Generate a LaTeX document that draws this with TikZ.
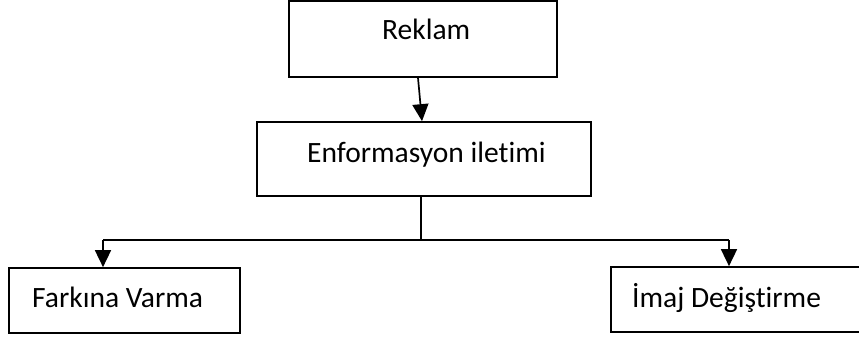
\documentclass[tikz,border=0pt]{standalone}
\usepackage{fontspec}
\setmainfont{Carlito}[Ligatures=NoCommon]
\usetikzlibrary{arrows.meta}
\tikzset{
  box/.style={draw=black, line width=1.7pt, fill=white, inner sep=0pt},
  lbl/.style={anchor=base west, inner sep=0pt, font=\fontsize{29.5}{34}\selectfont},
  conn/.style={draw=black, line width=1.7pt},
  arr/.style={conn, -{Triangle[length=17pt,width=16pt]}}
}
\begin{document}
\begin{tikzpicture}[x=1pt,y=-1pt]
\clip (0,0) rectangle (859,337);
\fill[white] (0,0) rectangle (859,337);
\node[box, minimum width=268pt, minimum height=76pt] (rek) at (423,39) {};
\node[box, minimum width=334pt, minimum height=74pt] (enf) at (424,159) {};
\node[box, minimum width=231pt, minimum height=65pt] (fark) at (124.5,300.5) {};
\node[box, minimum width=258pt, minimum height=65pt] (imaj) at (740,299.5) {};
\node[lbl] (trek) at (382,40) {Reklam};
\node[lbl] (tenf) at (307,162) {Enformasyon iletimi};
\node[lbl] (tfark) at (32,307) {Farkına Varma};
\node[lbl] (timaj) at (632,307) {İmaj Değiştirme};
\coordinate (split) at (421,240);
\coordinate (jL) at (103,240);
\coordinate (jR) at (729,240);
\draw[arr] ([xshift=-5pt]rek.south) -- ([xshift=-2pt]enf.north);
\draw[conn] ([xshift=-3pt]enf.south) -- (split);
\draw[conn] (jL) -- (jR);
\draw[arr] (jL) -- (jL |- fark.north);
\draw[arr] (jR) -- (jR |- imaj.north);
\end{tikzpicture}
\end{document}
